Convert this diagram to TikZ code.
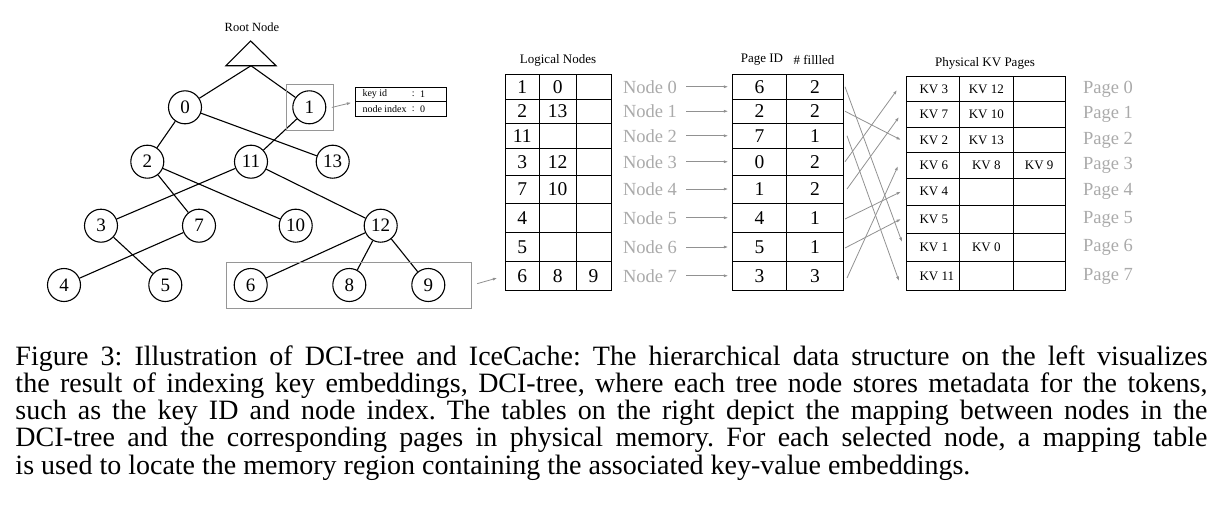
\documentclass[tikz,border=0pt]{standalone}
\usepackage{fontspec}
\setmainfont{Liberation Serif}
\usepackage{tikz}
\usetikzlibrary{arrows.meta}

\definecolor{labelgray}{RGB}{170,170,170}
\definecolor{arrowgray}{RGB}{145,145,145}
\definecolor{boxgray}{RGB}{150,150,150}

\tikzset{
  treenode/.style={circle, draw, line width=1.1pt, minimum size=33pt, inner sep=0pt, font=\fontsize{19}{19}\selectfont},
  cellnum/.style={inner sep=0pt, font=\fontsize{19.5}{19.5}\selectfont},
  kvtext/.style={inner sep=0pt, font=\fontsize{13}{13}\selectfont},
  headtext/.style={inner sep=0pt, font=\fontsize{13}{13}\selectfont},
  graylabel/.style={inner sep=0pt, text=labelgray, font=\fontsize{18.5}{18.5}\selectfont},
  grayarrow/.style={draw=arrowgray, line width=0.8pt, -{Latex[length=4.5pt,width=3pt]}},
  selbox/.style={draw=boxgray, line width=0.9pt, inner sep=0pt},
  infotext/.style={inner sep=0pt, font=\fontsize{10}{10}\selectfont},
  captext/.style={inner sep=0pt, anchor=base west, font=\fontsize{28}{28}\selectfont},
}

\begin{document}
\frenchspacing
\begin{tikzpicture}[x=1pt, y=-1pt, line width=1pt]
\useasboundingbox (0,0) rectangle (1222,519);

% tree
\coordinate (R1) at (226,65.7) ;
\coordinate (R2) at (250.7,41) ;
\coordinate (R3) at (276,65.7) ;
\coordinate (R0) at (251,65.7) ;
\draw [line width=1.1pt] (R1) -- (R2) -- (R3) -- cycle;
\node [headtext, font=\fontsize{12.5}{12.5}\selectfont] (root) at (252,27) {Root Node};

\node [treenode] (n0)  at (185,107.3)   {0};
\node [treenode] (n1)  at (309.3,107.3) {1};
\node [treenode] (n2)  at (147.3,161.7) {2};
\node [treenode] (n11) at (251,161.7)   {11};
\node [treenode] (n13) at (332.7,161.7) {13};
\node [treenode] (n3)  at (101,225.7)   {3};
\node [treenode] (n7)  at (199,225.7)   {7};
\node [treenode] (n10) at (295.7,225.7) {10};
\node [treenode] (n12) at (380.7,225.7) {12};
\node [treenode] (n4)  at (64,285)      {4};
\node [treenode] (n5)  at (165.3,285)   {5};
\node [treenode] (n6)  at (250.7,285)   {6};
\node [treenode] (n8)  at (349.3,285)   {8};
\node [treenode] (n9)  at (428.3,285)   {9};

\draw [line width=1.1pt] (R0) -- (n0);
\draw [line width=1.1pt] (R0) -- (n1);
\draw [line width=1.1pt] (n0) -- (n2);
\draw [line width=1.1pt] (n0) -- (n13);
\draw [line width=1.1pt] (n1) -- (n11);
\draw [line width=1.1pt] (n2) -- (n7);
\draw [line width=1.1pt] (n2) -- (n10);
\draw [line width=1.1pt] (n11) -- (n3);
\draw [line width=1.1pt] (n11) -- (n12);
\draw [line width=1.1pt] (n3) -- (n5);
\draw [line width=1.1pt] (n7) -- (n4);
\draw [line width=1.1pt] (n12) -- (n6);
\draw [line width=1.1pt] (n12) -- (n8);
\draw [line width=1.1pt] (n12) -- (n9);

% selected nodes and metadata
\node [selbox, minimum width=46.6pt, minimum height=46pt] (sel1) at (310,107) {};
\node [selbox, minimum width=244.3pt, minimum height=46pt] (sel2) at (348.85,285.3) {};
\node [draw, minimum width=91pt, minimum height=28.7pt, inner sep=0pt] (info) at (401.2,101.7) {};
\draw (info.west) -- (info.east);
\node [infotext, anchor=west] (kid)  at (362,94.5)   {key id};
\node [infotext] (kcol) at (413.3,94.5)  {:};
\node [infotext] (kval) at (422.7,94.5)  {1};
\node [infotext, anchor=west] (nidx) at (362,108.8)  {node index};
\node [infotext] (ncol) at (413.3,108.8) {:};
\node [infotext] (nval) at (422.7,108.8) {0};
\draw [grayarrow, shorten <=-2pt, shorten >=4pt] (sel1.east) -- (info.west);

% logical nodes table
\node [headtext] (lhead) at (558,60) {Logical Nodes};
\draw (505,74) rectangle (611,290);
\draw (539.3,74) -- (539.3,290) (576,74) -- (576,290);
\draw (505,99.5) -- (611,99.5) (505,123) -- (611,123) (505,148.5) -- (611,148.5)
      (505,175) -- (611,175) (505,203) -- (611,203) (505,232.5) -- (611,232.5)
      (505,261.5) -- (611,261.5);
\node [cellnum] (l0a) at (522.2,86.75)  {1};
\node [cellnum] (l0b) at (557.7,86.75)  {0};
\node [cellnum] (l1a) at (522.2,111.25) {2};
\node [cellnum] (l1b) at (557.7,111.25) {13};
\node [cellnum] (l2a) at (522.2,135.75) {11};
\node [cellnum] (l3a) at (522.2,161.75) {3};
\node [cellnum] (l3b) at (557.7,161.75) {12};
\node [cellnum] (l4a) at (522.2,189)    {7};
\node [cellnum] (l4b) at (557.7,189)    {10};
\node [cellnum] (l5a) at (522.2,217.75) {4};
\node [cellnum] (l6a) at (522.2,247)    {5};
\node [cellnum] (l7a) at (522.2,275.75) {6};
\node [cellnum] (l7b) at (557.7,275.75) {8};
\node [cellnum] (l7c) at (593.5,275.75) {9};
\coordinate (lw7) at (505,275.75) ;
\draw [grayarrow, shorten <=6pt, shorten >=8pt] (sel2.east) -- (lw7);

\node [graylabel] (nl0) at (650,86.75)  {Node 0};
\node [graylabel] (nl1) at (650,111.25) {Node 1};
\node [graylabel] (nl2) at (650,135.75) {Node 2};
\node [graylabel] (nl3) at (650,161.75) {Node 3};
\node [graylabel] (nl4) at (650,189)    {Node 4};
\node [graylabel] (nl5) at (650,217.75) {Node 5};
\node [graylabel] (nl6) at (650,247)    {Node 6};
\node [graylabel] (nl7) at (650,275.75) {Node 7};

% page table
\node [headtext] (phead) at (762,60) {Page ID};
\node [headtext] (fhead) at (814,60) {\# fillled};
\draw (732.3,74) rectangle (843.3,290);
\draw (786.7,74) -- (786.7,290);
\draw (732.3,99.5) -- (843.3,99.5) (732.3,123) -- (843.3,123) (732.3,148.5) -- (843.3,148.5)
      (732.3,175) -- (843.3,175) (732.3,203) -- (843.3,203) (732.3,232.5) -- (843.3,232.5)
      (732.3,261.5) -- (843.3,261.5);
\node [cellnum] (p0a) at (759.5,86.75)  {6};
\node [cellnum] (p0b) at (815,86.75)    {2};
\node [cellnum] (p1a) at (759.5,111.25) {2};
\node [cellnum] (p1b) at (815,111.25)   {2};
\node [cellnum] (p2a) at (759.5,135.75) {7};
\node [cellnum] (p2b) at (815,135.75)   {1};
\node [cellnum] (p3a) at (759.5,161.75) {0};
\node [cellnum] (p3b) at (815,161.75)   {2};
\node [cellnum] (p4a) at (759.5,189)    {1};
\node [cellnum] (p4b) at (815,189)      {2};
\node [cellnum] (p5a) at (759.5,217.75) {4};
\node [cellnum] (p5b) at (815,217.75)   {1};
\node [cellnum] (p6a) at (759.5,247)    {5};
\node [cellnum] (p6b) at (815,247)      {1};
\node [cellnum] (p7a) at (759.5,275.75) {3};
\node [cellnum] (p7b) at (815,275.75)   {3};

\coordinate (pw0) at (732.3,86.75) ;
\coordinate (pw1) at (732.3,111.25) ;
\coordinate (pw2) at (732.3,135.75) ;
\coordinate (pw3) at (732.3,161.75) ;
\coordinate (pw4) at (732.3,189) ;
\coordinate (pw5) at (732.3,217.75) ;
\coordinate (pw6) at (732.3,247) ;
\coordinate (pw7) at (732.3,275.75) ;
\draw [grayarrow, shorten <=9pt, shorten >=4pt] (nl0.east) -- (pw0);
\draw [grayarrow, shorten <=9pt, shorten >=4pt] (nl1.east) -- (pw1);
\draw [grayarrow, shorten <=9pt, shorten >=4pt] (nl2.east) -- (pw2);
\draw [grayarrow, shorten <=9pt, shorten >=4pt] (nl3.east) -- (pw3);
\draw [grayarrow, shorten <=9pt, shorten >=4pt] (nl4.east) -- (pw4);
\draw [grayarrow, shorten <=9pt, shorten >=4pt] (nl5.east) -- (pw5);
\draw [grayarrow, shorten <=9pt, shorten >=4pt] (nl6.east) -- (pw6);
\draw [grayarrow, shorten <=9pt, shorten >=4pt] (nl7.east) -- (pw7);

% physical kv pages
\node [headtext] (khead) at (985,63) {Physical KV Pages};
\draw (906.7,76) rectangle (1065,290.7);
\draw (959.3,76) -- (959.3,290.7) (1013.3,76) -- (1013.3,290.7);
\draw (906.7,101.7) -- (1065,101.7) (906.7,127.3) -- (1065,127.3) (906.7,152.7) -- (1065,152.7)
      (906.7,178.3) -- (1065,178.3) (906.7,205) -- (1065,205) (906.7,233.3) -- (1065,233.3)
      (906.7,261.7) -- (1065,261.7);
\node [kvtext, anchor=west] (k0a) at (919,88.85)  {KV 3};
\node [kvtext] (k0b) at (986.3,88.85)  {KV 12};
\node [kvtext, anchor=west] (k1a) at (919,114.5)  {KV 7};
\node [kvtext] (k1b) at (986.3,114.5)  {KV 10};
\node [kvtext, anchor=west] (k2a) at (919,140)    {KV 2};
\node [kvtext] (k2b) at (986.3,140)    {KV 13};
\node [kvtext, anchor=west] (k3a) at (919,165.5)  {KV 6};
\node [kvtext] (k3b) at (986.3,165.5)  {KV 8};
\node [kvtext] (k3c) at (1039.2,165.5) {KV 9};
\node [kvtext, anchor=west] (k4a) at (919,191.65) {KV 4};
\node [kvtext, anchor=west] (k5a) at (919,219.15) {KV 5};
\node [kvtext, anchor=west] (k6a) at (919,247.5)  {KV 1};
\node [kvtext] (k6b) at (986.3,247.5)  {KV 0};
\node [kvtext, anchor=west] (k7a) at (919,276.2)  {KV 11};

\node [graylabel] (pg0) at (1108,88.85)  {Page 0};
\node [graylabel] (pg1) at (1108,114.5)  {Page 1};
\node [graylabel] (pg2) at (1108,140)    {Page 2};
\node [graylabel] (pg3) at (1108,165.5)  {Page 3};
\node [graylabel] (pg4) at (1108,191.65) {Page 4};
\node [graylabel] (pg5) at (1108,219.15) {Page 5};
\node [graylabel] (pg6) at (1108,247.5)  {Page 6};
\node [graylabel] (pg7) at (1108,276.2)  {Page 7};

% mapping page table -> physical pages
\coordinate (pe0) at (845,86.75) ;
\coordinate (pe1) at (845,111.25) ;
\coordinate (pe2) at (847,135.75) ;
\coordinate (pe3) at (845,161.75) ;
\coordinate (pe4) at (847,189) ;
\coordinate (pe5) at (845,219) ;
\coordinate (pe6) at (845,248) ;
\coordinate (pe7) at (847,278) ;
\coordinate (qw0) at (897,90) ;
\coordinate (qw1) at (899,117) ;
\coordinate (qw2) at (901,140) ;
\coordinate (qw3) at (898,166) ;
\coordinate (qw4) at (901,191.65) ;
\coordinate (qw5) at (901,219) ;
\coordinate (qw6) at (902,242) ;
\coordinate (qw7) at (899,281) ;
\draw [grayarrow] (pe0) -- (qw6);
\draw [grayarrow] (pe1) -- (qw2);
\draw [grayarrow] (pe2) -- (qw7);
\draw [grayarrow] (pe3) -- (qw0);
\draw [grayarrow] (pe4) -- (qw1);
\draw [grayarrow] (pe5) -- (qw4);
\draw [grayarrow] (pe6) -- (qw5);
\draw [grayarrow] (pe7) -- (qw3);

% caption
\node [captext] (cap1) at (15,365)   {\makebox[1192pt][s]{Figure 3: Illustration of DCI-tree and IceCache: The hierarchical data structure on the left visualizes}};
\node [captext] (cap2) at (15,392.3) {\makebox[1192pt][s]{the result of indexing key embeddings, DCI-tree, where each tree node stores metadata for the tokens,}};
\node [captext] (cap3) at (15,419.6) {\makebox[1192pt][s]{such as the key ID and node index. The tables on the right depict the mapping between nodes in the}};
\node [captext] (cap4) at (15,446.9) {\makebox[1192pt][s]{DCI-tree and the corresponding pages in physical memory. For each selected node, a mapping table}};
\node [captext] (cap5) at (15,474.2) {is used to locate the memory region containing the associated key-value embeddings.};

\end{tikzpicture}
\end{document}
